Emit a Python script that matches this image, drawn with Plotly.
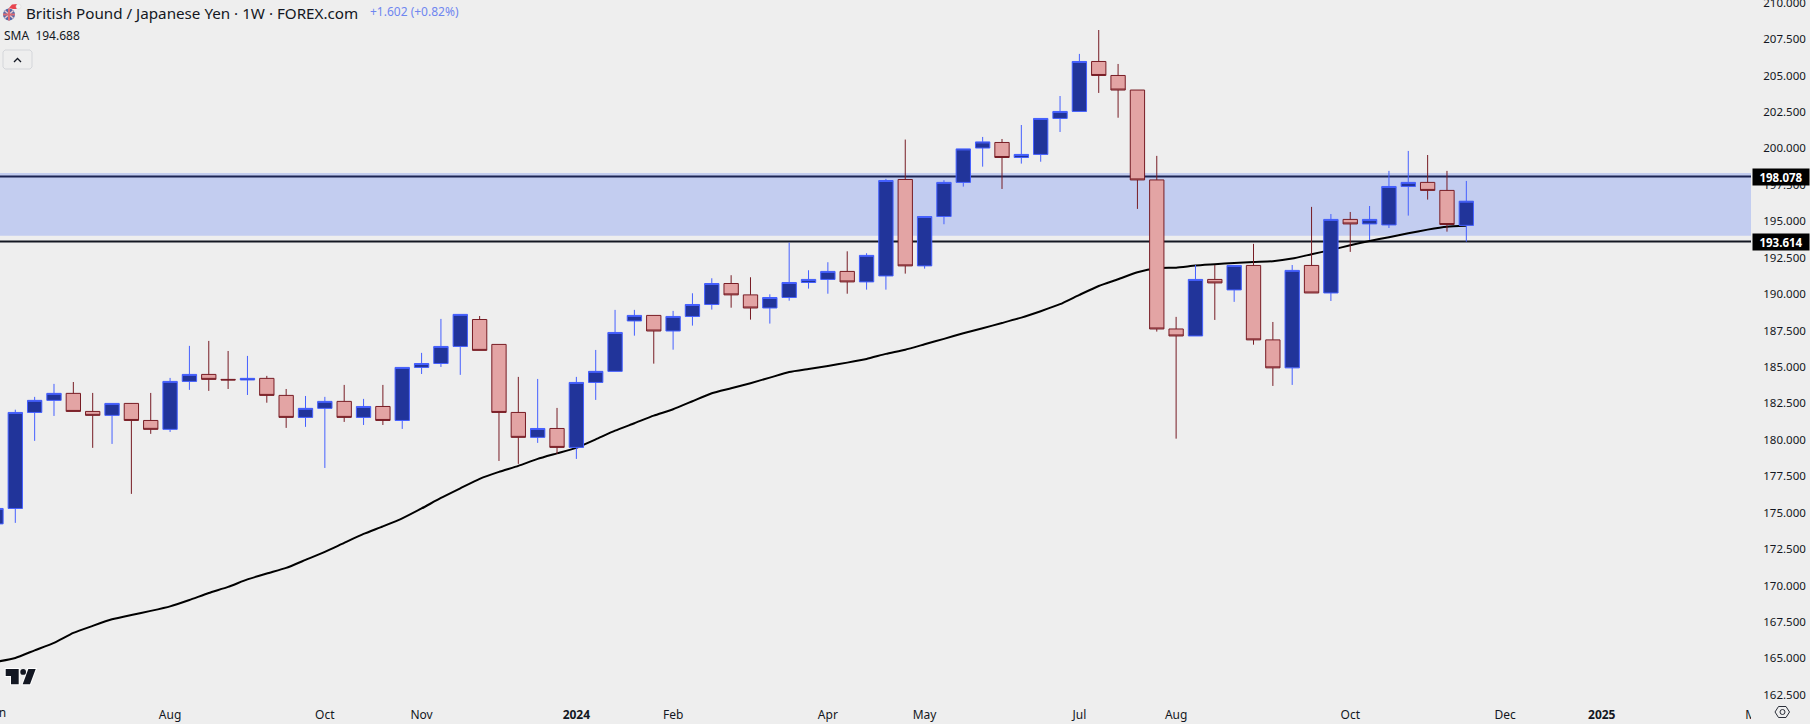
import pandas as pd
import plotly.graph_objects as go

W, H = 1810, 724
AXIS_X = 1751
PLOT_H = 698

# Weekly bars, first one is the week of 5 Jun 2023
start_date = "2023-06-05"
opens = [174.23,175.29,181.88,182.71,183.19,181.95,181.68,182.50,181.33,180.72,184.01,184.49,184.15,184.11,184.22,183.05,181.54,182.16,182.64,181.54,182.29,181.33,184.97,185.24,186.41,188.26,186.55,181.88,180.17,180.78,179.48,183.94,184.70,188.16,188.54,187.47,188.47,189.29,190.73,189.95,189.05,189.77,190.80,191.01,191.56,190.84,191.25,197.87,191.94,195.33,197.67,200.03,200.41,199.38,199.59,202.06,202.54,205.97,205.01,204.01,197.84,187.61,187.13,191.01,190.29,191.97,186.86,184.94,191.97,190.08,195.13,194.82,194.75,197.39,197.67,197.12,194.72]
closes = [175.29,181.88,182.71,183.19,181.95,181.68,182.50,181.33,180.72,184.01,184.49,184.15,184.11,184.22,183.05,181.54,182.16,182.64,181.54,182.29,181.33,184.97,185.24,186.41,188.61,186.14,181.88,180.17,180.78,179.48,183.94,184.70,187.37,188.54,187.47,188.47,189.29,190.73,189.95,189.05,189.77,190.80,191.01,191.56,190.84,192.66,197.80,191.94,195.33,197.67,199.97,200.45,199.38,199.59,202.06,202.54,205.97,205.01,204.01,197.84,187.61,187.13,191.01,190.77,191.97,186.86,184.94,191.63,190.08,195.13,194.82,195.13,197.39,197.67,197.12,194.78,196.38]
highs = [175.29,182.07,182.95,183.84,183.97,183.22,182.50,182.52,183.22,184.25,186.45,186.79,186.10,185.76,184.39,183.49,183.01,182.95,183.77,182.81,183.77,184.97,185.97,188.30,188.61,188.50,186.55,184.32,184.18,182.19,184.32,186.17,188.92,188.92,188.54,188.85,190.06,191.09,191.30,191.16,189.99,193.54,191.64,192.19,192.94,192.81,197.91,200.61,195.33,197.82,199.97,200.79,200.65,201.61,202.06,203.60,206.49,208.13,205.80,204.01,199.49,188.44,192.00,192.00,191.97,193.45,188.09,192.00,195.99,195.50,195.64,196.05,198.46,199.83,199.55,198.46,197.77]
lows = [174.23,174.30,179.93,181.64,181.95,179.45,179.72,176.29,180.41,180.54,183.43,183.36,183.49,183.08,182.55,180.82,180.89,178.07,181.23,181.02,181.02,180.75,184.52,185.00,184.46,186.14,178.55,178.35,179.79,179.03,178.69,182.74,184.70,187.15,185.23,186.19,187.84,188.94,189.07,188.25,187.98,189.55,190.38,190.03,190.03,190.31,190.31,191.41,191.75,194.80,197.38,198.75,197.22,198.96,199.09,201.13,202.54,203.81,202.11,195.85,187.43,180.08,187.13,188.23,189.47,186.53,183.70,183.77,190.08,189.53,192.90,193.72,194.54,195.39,196.49,194.29,193.60]
sma = [164.76,165.03,165.55,166.06,166.75,167.23,167.68,167.98,168.26,168.57,169.01,169.49,169.91,170.42,170.83,171.21,171.76,172.31,172.93,173.54,174.06,174.61,175.29,176.01,176.67,177.32,177.80,178.21,178.69,179.07,179.45,180.03,180.63,181.14,181.66,182.10,182.65,183.20,183.54,183.89,184.27,184.66,184.87,185.07,185.30,185.55,185.90,186.19,186.56,186.93,187.32,187.66,188.02,188.39,188.83,189.31,189.95,190.56,191.02,191.50,191.78,191.82,191.96,192.05,192.14,192.21,192.26,192.44,192.74,193.03,193.36,193.65,193.91,194.18,194.43,194.63,194.688]

zone_high = 198.32
zone_low = 194.00
level_high = 198.078
level_low = 193.614

month_dates = ["2023-08-07","2023-10-02","2023-11-06","2024-01-01","2024-02-05","2024-04-01","2024-05-06","2024-07-01","2024-08-05","2024-10-07","2024-12-02","2025-01-06","2025-03-03"]
month_labels = ["Aug","Oct","Nov","<b>2024</b>","Feb","Apr","May","Jul","Aug","Oct","Dec","<b>2025</b>","Mar"]

y_top = 210.19
y_bottom = 162.28

BG = "#eeeeee"
UP_FILL, UP_LINE = "#21349a", "#4560ff"
DN_FILL, DN_LINE = "#e3a4a4", "#771c24"
TXT = "#131722"
FONT = "Noto Sans"

dates = pd.date_range(start_date, periods=len(opens), freq="7D")
week_ms = pd.Timedelta(days=7)
px_per_week = 19.347
x0 = dates[1] - week_ms * (15.3 / px_per_week)
x1 = dates[1] + week_ms * ((W - 15.3) / px_per_week)


def px(x):
    return x / W


def py(y):
    return 1 - y / PLOT_H


def path(points, close=True):
    s = "M " + " L ".join(f"{px(a):.6f} {py(b):.6f}" for a, b in points)
    return s + (" Z" if close else "")


fig = go.Figure()
fig.add_trace(go.Scatter(x=dates, y=sma, mode="lines", line=dict(color="#000000", width=2, shape="spline", smoothing=0.5),
                         hoverinfo="skip", showlegend=False, xaxis="x", yaxis="y"))
fig.add_trace(go.Candlestick(
    x=dates, open=opens, high=highs, low=lows, close=closes,
    increasing=dict(fillcolor=UP_FILL, line=dict(color=UP_LINE, width=1)),
    decreasing=dict(fillcolor=DN_FILL, line=dict(color=DN_LINE, width=1)),
    whiskerwidth=0, showlegend=False, xaxis="x", yaxis="y2"))

shapes = [
    dict(type="rect", xref="paper", yref="y", x0=0, x1=px(AXIS_X), y0=zone_low, y1=zone_high,
         fillcolor="#c3cdf0", line=dict(width=0), layer="below"),
    dict(type="line", xref="paper", yref="y", x0=0, x1=px(AXIS_X), y0=level_high, y1=level_high,
         line=dict(color="#1c2452", width=2), layer="below"),
    dict(type="line", xref="paper", yref="y", x0=0, x1=px(AXIS_X), y0=level_low, y1=level_low,
         line=dict(color="#131722", width=2), layer="below"),
]
P = dict(xref="paper", yref="paper", layer="above")
# time-axis strip clips the right of the last labels
shapes.append(dict(type="rect", x0=px(AXIS_X), x1=1, y0=py(699), y1=py(H), fillcolor=BG,
                   line=dict(width=0), **P))
# settings hexagon
shapes.append(dict(type="path", path=path([(1775, 712), (1778.5, 706.5), (1786, 706.5), (1789.5, 712), (1786, 717.5), (1778.5, 717.5)]),
                   line=dict(color="#2a2e39", width=1), fillcolor="rgba(0,0,0,0)", **P))
shapes.append(dict(type="circle", x0=px(1780), x1=px(1785), y0=py(714.5), y1=py(709.5),
                   line=dict(color="#2a2e39", width=1), **P))
# collapse button
shapes.append(dict(type="path", path="M " + " L ".join(f"{px(a):.6f} {py(b):.6f}" for a, b in [(5, 50), (30, 50), (32, 52), (32, 67), (30, 69), (5, 69), (3, 67), (3, 52)]) + " Z",
                   line=dict(color="#d4d6da", width=1), fillcolor=BG, **P))
shapes.append(dict(type="path", path=path([(14, 62), (17.5, 58.5), (21, 62)], close=False),
                   line=dict(color="#131722", width=1.3), **P))
# instrument flag with hat
shapes.append(dict(type="circle", x0=px(3), x1=px(15), y0=py(20.5), y1=py(8.5),
                   fillcolor="#5468a8", line=dict(width=0), **P))
shapes.append(dict(type="path", path=path([(4.5, 10.5), (13.5, 18.5)], close=False), line=dict(color="#e8c8cc", width=1.5), **P))
shapes.append(dict(type="path", path=path([(13.5, 10.5), (4.5, 18.5)], close=False), line=dict(color="#e8c8cc", width=1.5), **P))
shapes.append(dict(type="path", path=path([(9, 8.5), (9, 20.5)], close=False), line=dict(color="#d96a74", width=2), **P))
shapes.append(dict(type="path", path=path([(3, 14.5), (15, 14.5)], close=False), line=dict(color="#d96a74", width=2), **P))
shapes.append(dict(type="path", path=path([(9, 8), (12, 4.5), (17, 4), (17, 9), (13, 9)]), fillcolor="#e8454f", line=dict(width=0), **P))
shapes.append(dict(type="circle", x0=px(16), x1=px(21), y0=py(9), y1=py(4), fillcolor="#f4f4f4", line=dict(color="#d8d8d8", width=0.5), **P))
# TradingView mark
logo = [
    [(5.7, 669), (18.7, 669), (18.7, 684.3), (11, 684.3), (11, 676), (5.7, 676)],
    [(28.3, 669), (35.7, 669), (30, 684.3), (22.7, 684.3)],
]
for pts in logo:
    shapes.append(dict(type="path", path=path(pts), fillcolor="#131722", line=dict(color="#ffffff", width=2), **P))
for pts in logo:
    shapes.append(dict(type="path", path=path(pts), fillcolor="#131722", line=dict(width=0), **P))
shapes.append(dict(type="circle", x0=px(20.3), x1=px(26), y0=py(674.8), y1=py(669),
                   fillcolor="#131722", line=dict(width=0), **P))


def note(x, y, text, size=13, color=TXT, anchor="left", **kw):
    return dict(xref="paper", yref="paper", x=px(x), y=py(y), text=text, showarrow=False,
                xanchor=anchor, yanchor="middle", font=dict(family=FONT, size=size, color=color), **kw)


annotations = [
    note(24, 12.5, "British Pound / Japanese Yen · 1W · FOREX.com", size=15.2),
    note(368, 12, "+1.602 (+0.82%)", size=12, color="#6f86f0"),
    note(2, 35.5, "SMA&nbsp;&nbsp;194.688", size=12),
    note(-4, 712, "Jun", size=12, anchor="center"),
]
for value, yc in ((level_high, 177), (level_low, 242)):
    annotations.append(dict(xref="paper", yref="paper", x=px(AXIS_X + 1), y=py(yc), xanchor="left", yanchor="middle",
                            text=f"<b>{value:.3f}</b>", showarrow=False, width=54, height=14, align="center",
                            bgcolor="#000000", borderpad=1,
                            font=dict(family=FONT, size=11.5, color="#ffffff")))

axis_y = dict(range=[y_bottom, y_top], showgrid=False, zeroline=False, automargin=False)
fig.update_layout(
    width=W, height=H, autosize=False,
    margin=dict(l=0, r=0, t=0, b=H - PLOT_H, pad=0, autoexpand=False),
    paper_bgcolor=BG, plot_bgcolor=BG, showlegend=False, dragmode=False,
    font=dict(family=FONT, size=12, color=TXT),
    boxgap=0.26, boxgroupgap=0,
    xaxis=dict(type="date", range=[x0, x1], rangeslider=dict(visible=False), showgrid=False, zeroline=False,
               automargin=False, tickmode="array", tickvals=month_dates, ticktext=month_labels, ticks="outside", ticklen=6,
               tickcolor=BG, tickfont=dict(family=FONT, size=12, color=TXT), showline=False, tickangle=0),
    yaxis=dict(side="right", anchor="free", position=px(AXIS_X), dtick=2.5, tick0=200, tickformat=".3f",
               ticks="outside", ticklen=9, tickcolor=BG, tickfont=dict(family=FONT, size=11.5, color=TXT),
               showline=False, ticklabeloverflow="allow", **axis_y),
    yaxis2=dict(overlaying="y", visible=False, **axis_y),
    shapes=shapes, annotations=annotations,
)
fig.write_html("out.html", config=dict(displayModeBar=False),
               post_script="document.documentElement.style.background='#eeeeee';document.body.style.margin='0';document.body.style.overflow='hidden';")
